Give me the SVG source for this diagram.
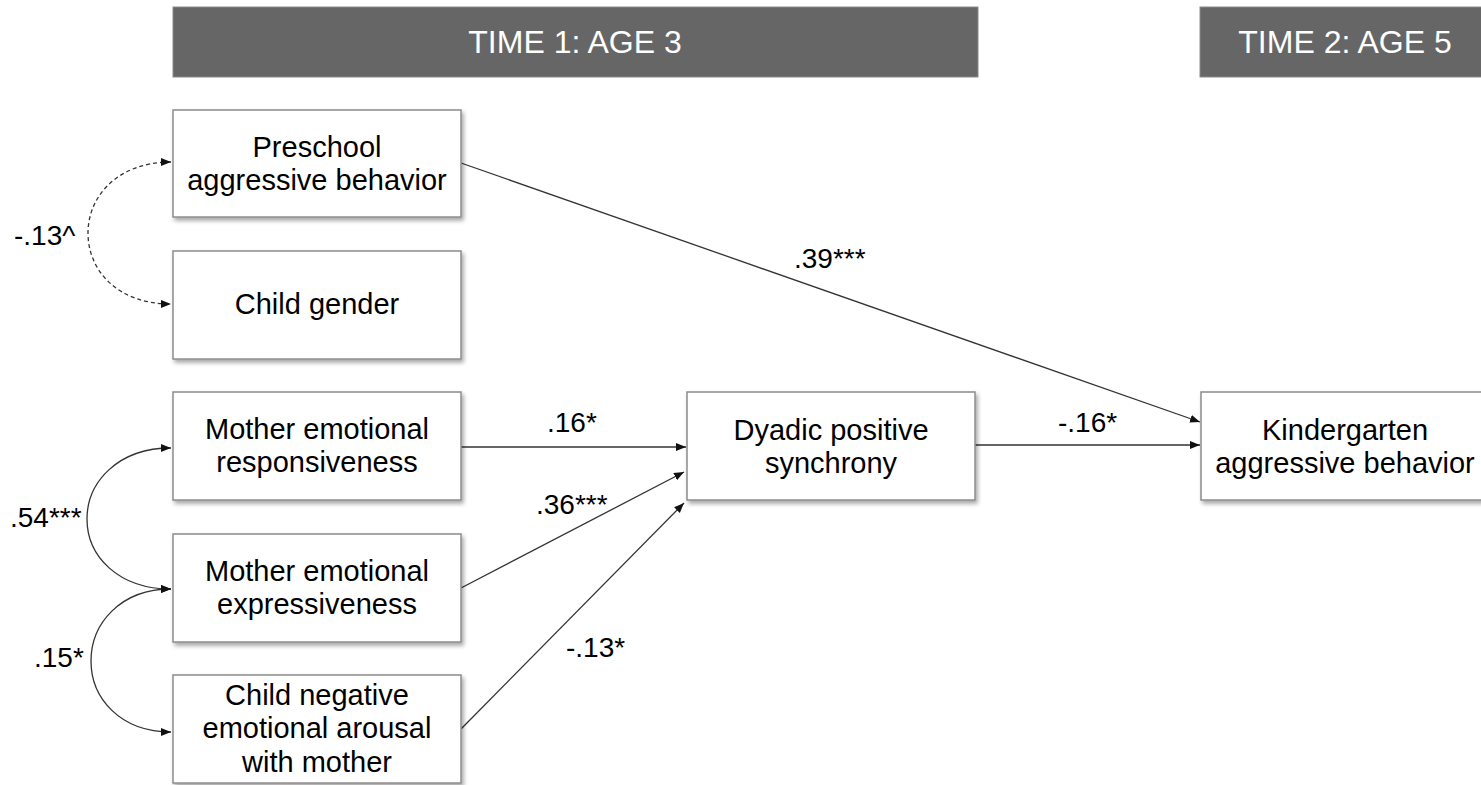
<svg xmlns="http://www.w3.org/2000/svg" width="1481" height="785" viewBox="0 0 1481 785">
<style>
.hdr{fill:#666666;stroke:#8a8a8a;stroke-width:1}
.htxt{font-family:"Liberation Sans",Arial,sans-serif;font-size:32px;fill:#ffffff;text-anchor:middle}
.box{fill:#ffffff;stroke:#8c8c8c;stroke-width:1.5;filter:url(#sh)}
.t{font-family:"Liberation Sans",Arial,sans-serif;font-size:29px;fill:#000000;text-anchor:middle}
.lbl{font-family:"Liberation Sans",Arial,sans-serif;font-size:28px;fill:#000000}
.c{fill:none;stroke:#333333;stroke-width:1.3}
.d{stroke-dasharray:4 3}
</style>
<defs>
<filter id="sh" x="-10%" y="-10%" width="130%" height="130%">
<feDropShadow dx="2" dy="3" stdDeviation="2" flood-color="#000000" flood-opacity="0.35"/>
</filter>
<marker id="ah" viewBox="0 0 10 10" refX="10" refY="5" markerWidth="10" markerHeight="10" markerUnits="userSpaceOnUse" orient="auto-start-reverse">
<path d="M0,1 L10,5 L0,9 Z" fill="#111111"/>
</marker>
</defs>
<g id="header1"><rect class="hdr" x="173" y="7" width="805" height="70"/><text class="htxt" x="575" y="53">TIME 1: AGE 3</text></g>
<g id="header2"><rect class="hdr" x="1200" y="7" width="290" height="70"/><text class="htxt" x="1345" y="53">TIME 2: AGE 5</text></g>
<g id="connectors">
<path class="c d" d="M171,162 C118,162 88,196 88,233 C88,271 118,304 171,304" marker-start="url(#ah)" marker-end="url(#ah)"/>
<path class="c" d="M171,448 C118,448 87,482 87,519 C87,556 118,589 171,589" marker-start="url(#ah)" marker-end="url(#ah)"/>
<path class="c" d="M171,589 C120,589 91,624 91,661 C91,698 120,732 171,732" marker-start="url(#ah)" marker-end="url(#ah)"/>
<line class="c" x1="461" y1="163" x2="1200" y2="422" marker-end="url(#ah)"/>
<line class="c" x1="461" y1="447" x2="686" y2="447" marker-end="url(#ah)"/>
<line class="c" x1="461" y1="588" x2="684" y2="472" marker-end="url(#ah)"/>
<line class="c" x1="461" y1="729" x2="684" y2="503" marker-end="url(#ah)"/>
<line class="c" x1="975" y1="445" x2="1200" y2="445" marker-end="url(#ah)"/>
<text class="lbl" x="14" y="245">-.13^</text>
<text class="lbl" x="10" y="527">.54***</text>
<text class="lbl" x="34" y="667">.15*</text>
<text class="lbl" x="794" y="268">.39***</text>
<text class="lbl" x="547" y="432">.16*</text>
<text class="lbl" x="536" y="514">.36***</text>
<text class="lbl" x="566" y="657">-.13*</text>
<text class="lbl" x="1058" y="432">-.16*</text>
</g>
<g id="preschool"><rect class="box" x="173" y="110" width="288" height="107"/><text class="t" x="317" y="157">Preschool</text><text class="t" x="317" y="190">aggressive behavior</text></g>
<g id="gender"><rect class="box" x="173" y="251" width="288" height="108"/><text class="t" x="317" y="314">Child gender</text></g>
<g id="responsiveness"><rect class="box" x="173" y="392" width="288" height="108"/><text class="t" x="317" y="439">Mother emotional</text><text class="t" x="317" y="472">responsiveness</text></g>
<g id="expressiveness"><rect class="box" x="173" y="534" width="288" height="108"/><text class="t" x="317" y="581">Mother emotional</text><text class="t" x="317" y="614">expressiveness</text></g>
<g id="childneg"><rect class="box" x="173" y="675" width="288" height="108"/><text class="t" x="317" y="705">Child negative</text><text class="t" x="317" y="738">emotional arousal</text><text class="t" x="317" y="772">with mother</text></g>
<g id="dyadic"><rect class="box" x="687" y="392" width="288" height="108"/><text class="t" x="831" y="440">Dyadic positive</text><text class="t" x="831" y="473">synchrony</text></g>
<g id="kinder"><rect class="box" x="1201" y="392" width="288" height="108"/><text class="t" x="1345" y="440">Kindergarten</text><text class="t" x="1345" y="473">aggressive behavior</text></g>
</svg>
